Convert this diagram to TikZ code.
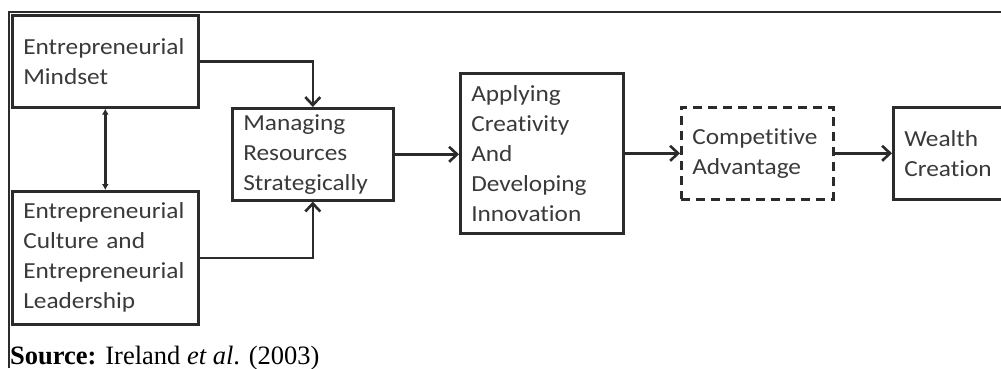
\documentclass[tikz,border=0pt]{standalone}
\usepackage{fontspec}
\setmainfont{Liberation Serif}
\newfontfamily\boxfont[FakeStretch=1.1, Ligatures=NoCommon]{Carlito}
\usetikzlibrary{arrows.meta}
\definecolor{inkline}{HTML}{2B2B2B}
\definecolor{inktext}{HTML}{3A3A3A}
\tikzset{
  x=1pt, y=-1pt,
  stagebox/.style={draw=inkline, line width=2.6pt, anchor=north west,
    inner xsep=11pt, inner ysep=0pt, align=left,
    font=\boxfont\fontsize{23}{30}\selectfont, text=inktext},
  flow/.style={draw=inkline, line width=2.6pt,
    -{Straight Barb[length=8pt,width=15pt]}},
  mutual/.style={draw=inkline, line width=2.4pt,
    {Latex[length=6pt,width=7pt]}-{Latex[length=6pt,width=7pt]}},
}
\begin{document}
\begin{tikzpicture}
\useasboundingbox (0,0) rectangle (1001,368);
\clip (0,0) rectangle (1001,368);
\fill[white] (0,0) rectangle (1001,368);

% frame lines along the top and left
\draw[inkline, line width=2pt] (9,368) -- (9,12) -- (1001,12);

% stages
\node[stagebox, text width=164pt, minimum height=92pt] (mind) at (11,14)
  {Entrepreneurial\\Mindset};
\node[stagebox, text width=164pt, minimum height=133pt] (cult) at (11,190)
  {Entrepreneurial\\Culture and\\Entrepreneurial\\Leadership};
\node[stagebox, text width=139pt, minimum height=92pt] (mng) at (231,107)
  {Managing\\Resources\\Strategically};
\node[stagebox, text width=141pt, minimum height=160pt] (app) at (459,72)
  {Applying\\Creativity\\And\\Developing\\Innovation};
\node[stagebox, text width=130pt, minimum height=92pt,
      dash pattern=on 9pt off 6pt] (comp) at (680,106)
  {Competitive\\Advantage};
\node[stagebox, text width=130pt, minimum height=92pt] (wlth) at (892,106)
  {Wealth\\Creation};

% connectors
\draw[mutual] (mind.south) -- (cult.north);
\draw[flow] (mind.east) -| (mng.north);
\draw[flow] (cult.east) -| (mng.south);
\draw[flow] (mng.east) -- (mng.east -| app.west);
\draw[flow] (app.east) -- (app.east -| comp.west);
\draw[flow] (comp.east) -- (comp.east -| wlth.west);

% source line
\node[anchor=base west, inner sep=0pt, font=\fontsize{26.5}{30}\selectfont,
      text=black] (src) at (10,364)
  {\textbf{Source:} Ireland \textit{et al}. (2003)};
\end{tikzpicture}
\end{document}
